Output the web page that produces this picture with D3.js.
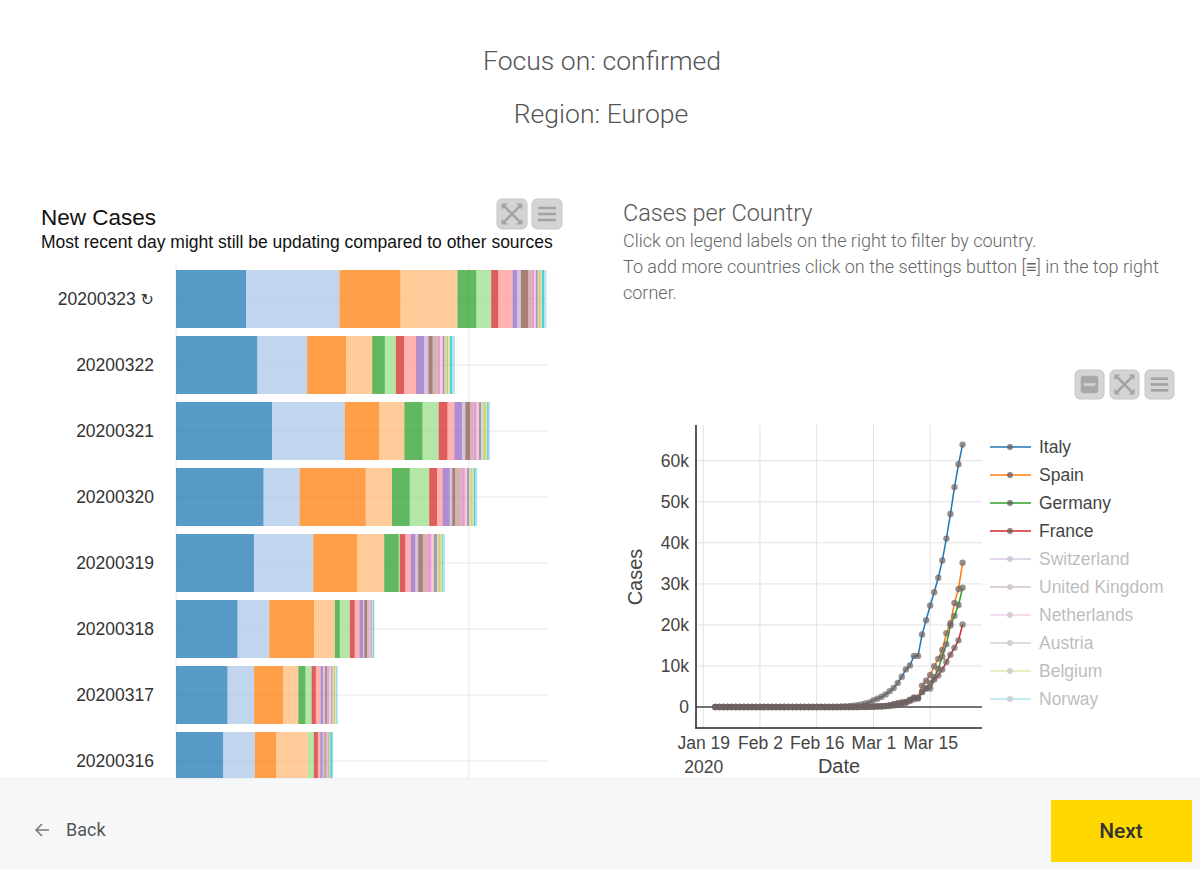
<!DOCTYPE html>
<html><head><meta charset="utf-8">
<script src="https://cdn.jsdelivr.net/npm/d3@7"></script>
<style>
body{margin:0;background:#fff;}
svg{display:block;}
</style>
</head><body>
<svg id="c" width="1200" height="869"></svg>
<script>
// ---------------- DATA ----------------
// New cases (stacked bars), rows top to bottom
const barDates = ["20200323","20200322","20200321","20200320","20200319","20200318","20200317","20200316"];
const barCountries = ["Italy","Spain","Germany","France","Switzerland","United Kingdom","Netherlands","Austria","Belgium","Norway",
  "Portugal","Sweden","Denmark","Czechia","Ireland","Luxembourg","Poland","Finland","Greece","Iceland"];
const newItaly       = [4789,5560,6557,5986,5322,4207,3526,3233];
const newSpain       = [6368,3394,4964,2447,4053,2162,1806,2144];
const newGermany     = [4183,2660,2365,4528,2993,3070,1985,1477];
const newFrance      = [3880,1780,1705,1788,1846,1409,1032,2151];
const newSwitzerland = [1300,870,1250,1219,1000,341,500,0];
const newUK          = [1000,750,1092,1320,74,683,409,407];
const newNetherlands = [500,576,614,546,387,341,295,278];
const newAustria     = [955,800,455,364,341,314,314,158];
const newBelgium     = [341,570,523,500,341,243,185,172];
const newNorway      = [228,273,228,159,182,87,130,112];
const newPortugal    = [523,300,319,228,319,194,117,86];
const newSweden      = [228,341,228,410,296,89,87,81];
const newDenmark     = [160,160,228,228,296,91,92,58];
const newCzechia     = [120,180,160,150,150,68,120,45];
const newIreland     = [120,130,150,130,228,69,90,40];
const newLuxembourg  = [100,130,180,150,120,63,100,4];
const newPoland      = [115,120,130,100,130,13,80,58];
const newFinland     = [74,110,100,80,100,15,60,33];
const newGreece      = [150,160,100,120,60,56,40,150];
const newIceland     = [150,186,91,119,129,30,80,50];
const barAxisMax = 25400;
const barGridTicks = [0, 20000];

// Cumulative confirmed cases, one value per day from 2020-01-22 to 2020-03-23
const lineStart = "2020-01-22", lineEnd = "2020-03-23";
const casesItaly = [0,0,0,0,0,0,0,0,0, 2,2,2,2,2,2,2, 3,3,3,3,3,3,3,3,3,3,3,3,3,3,
  20,62,155,229,322,453,655,888,1128,
  1694,2036,2502,3089,3858,4636,5883,7375,9172,10149,12462,12462,17660,21157,24747,27980,31506,35713,41035,47021,53578,59138,63927];
const casesSpain = [0,0,0,0,0,0,0,0,0,0, 1,1,1,1,1,1,1,1, 2,2,2,2,2,2,2,2,2,2,2,2,2,2,2,2,
  6,13,15,32,45,
  84,120,165,222,259,400,500,673,1073,1695,2277,2277,5232,6391,7798,9942,11748,13910,17963,20410,25374,28768,35136];
const casesGermany = [0,0,0,0,0,1,4,4,4,5, 8,10,12,12,12,12,13,13,14,14,
  16,16,16,16,16,16,16,16,16,16,16,16,16,16,
  17,27,46,48,79,
  130,159,196,262,482,670,799,1040,1176,1457,1908,2078,3675,4585,5795,7272,9257,12327,15320,19848,22213,24873,29056];
const casesFrance = [0,0,2,3,3,3,4,5,5,5, 6,6,6,6,6,6,6, 11,11,11,11,11,11,11,
  12,12,12,12,12,12,12,12,12,12,
  14,18,38,57,100,
  130,191,204,288,380,656,959,1136,1219,1794,2293,2293,3681,4496,4532,6683,7715,9124,10970,12758,14463,16243,20123];
const shownCountries = ["Italy","Spain","Germany","France"];
const legendCountries = ["Italy","Spain","Germany","France","Switzerland","United Kingdom","Netherlands","Austria","Belgium","Norway"];
const lineYTicks = [0,10000,20000,30000,40000,50000,60000];
const lineXTicks = ["2020-01-19","2020-02-02","2020-02-16","2020-03-01","2020-03-15"];

// ---------------- STYLE ----------------
const palette20 = ["#1f77b4","#aec7e8","#ff7f0e","#ffbb78","#2ca02c","#98df8a","#d62728","#ff9896","#9467bd","#c5b0d5",
  "#8c564b","#c49c94","#e377c2","#f7b6d2","#7f7f7f","#c7c7c7","#bcbd22","#dbdb8d","#17becf","#9edae5"];
const palette10 = ["#1f77b4","#ff7f0e","#2ca02c","#d62728","#9467bd","#8c564b","#e377c2","#7f7f7f","#bcbd22","#17becf"];
const ARIAL = "'Liberation Sans', Arial, sans-serif";
const ROBOTO = "Roboto, 'Open Sans', sans-serif";

const svg = d3.select("#c");

// ---------------- HEADER ----------------
svg.append("text").attr("x",602).attr("y",70).attr("text-anchor","middle")
  .style("font-family",ROBOTO).style("font-weight",300).style("font-size","26.6px").style("fill","#555")
  .text("Focus on: confirmed");
svg.append("text").attr("x",601).attr("y",123).attr("text-anchor","middle")
  .style("font-family",ROBOTO).style("font-weight",300).style("font-size","26.6px").style("fill","#555")
  .text("Region: Europe");

// ---------------- ICONS ----------------
function iconBox(x,y,s,kind){
  const g = svg.append("g").attr("transform",`translate(${x},${y})`);
  g.append("rect").attr("width",s).attr("height",s).attr("rx",5)
    .style("fill","#d4d4d4").style("stroke","#c6c6c6");
  const c = "#a3a3a3";
  if(kind==="menu"){
    [0.3,0.5,0.7].forEach(f=>g.append("line").attr("x1",s*0.2).attr("x2",s*0.8).attr("y1",s*f).attr("y2",s*f)
      .style("stroke",c).style("stroke-width",2.6));
  } else if(kind==="expand"){
    const a=s*0.22,b=s*0.78;
    g.append("path").attr("d",`M${a},${a}L${b},${b}M${b},${a}L${a},${b}`).style("stroke",c).style("stroke-width",2.6);
    const t=s*0.2;
    g.append("path").attr("d",`M${a-2},${a-2}h${t}l-${t},${t}z M${b+2},${a-2}h-${t}l${t},${t}z M${a-2},${b+2}h${t}l-${t},-${t}z M${b+2},${b+2}h-${t}l${t},-${t}z`)
      .style("fill",c);
  } else if(kind==="minus"){
    g.append("rect").attr("x",s*0.2).attr("y",s*0.2).attr("width",s*0.6).attr("height",s*0.6).attr("rx",3).style("fill","#a8a8a8");
    g.append("line").attr("x1",s*0.3).attr("x2",s*0.7).attr("y1",s*0.5).attr("y2",s*0.5).style("stroke","#d4d4d4").style("stroke-width",2.6);
  }
}
iconBox(497,199,30,"expand");
iconBox(532,199,30,"menu");
iconBox(1075,370,29,"minus");
iconBox(1110,370,29,"expand");
iconBox(1145,370,29,"menu");

// ---------------- LEFT: NEW CASES ----------------
svg.append("text").attr("x",41).attr("y",225).style("font-family",ARIAL).style("font-size","22.5px").style("fill","#111")
  .text("New Cases");
svg.append("text").attr("x",41).attr("y",248).style("font-family",ARIAL).style("font-size","17.5px").style("fill","#111")
  .text("Most recent day might still be updating compared to other sources");

const barValues = [newItaly,newSpain,newGermany,newFrance,newSwitzerland,newUK,newNetherlands,newAustria,newBelgium,newNorway,
  newPortugal,newSweden,newDenmark,newCzechia,newIreland,newLuxembourg,newPoland,newFinland,newGreece,newIceland];
const table = barDates.map((d,i)=>{const o={date:d}; barCountries.forEach((c,j)=>o[c]=barValues[j][i]); return o;});
const stacked = d3.stack().keys(barCountries)(table);
const colorB = d3.scaleOrdinal().domain(barCountries).range(palette20);

const xB = d3.scaleLinear().domain([0,barAxisMax]).range([176,548]);
const yB = d3.scaleBand().domain(barDates).range([266, 266+66*barDates.length]).padding(0);

svg.append("clipPath").attr("id","clipB").append("rect").attr("x",0).attr("y",150).attr("width",600).attr("height",628);
const gB = svg.append("g").attr("clip-path","url(#clipB)");

// grid
gB.selectAll(".vg").data(barGridTicks).enter().append("line")
  .attr("x1",d=>xB(d)).attr("x2",d=>xB(d)).attr("y1",265).attr("y2",800)
  .style("stroke","#e6e6e6").style("stroke-width",1);
gB.selectAll(".hg").data(barDates).enter().append("line")
  .attr("x1",xB(0)).attr("x2",xB(barAxisMax)).attr("y1",d=>yB(d)+yB.bandwidth()/2).attr("y2",d=>yB(d)+yB.bandwidth()/2)
  .style("stroke","#e6e6e6").style("stroke-width",1);

gB.selectAll(".layer").data(stacked).enter().append("g")
  .style("fill",d=>colorB(d.key)).style("fill-opacity",0.75)
  .selectAll("rect").data(d=>d).enter().append("rect")
  .attr("x",d=>xB(d[0])).attr("width",d=>Math.max(0,xB(d[1])-xB(d[0])))
  .attr("y",d=>yB(d.data.date)+4).attr("height",yB.bandwidth()-8);

const axB = gB.append("g").attr("transform",`translate(${xB(0)},0)`)
  .call(d3.axisLeft(yB).tickSize(0).tickPadding(22));
axB.select(".domain").remove();
axB.selectAll("text").style("font-family",ARIAL).style("font-size","17.5px").style("fill","#333");
axB.selectAll(".tick text").filter(d=>d===barDates[0]).text(d=>d+"  ")
  .append("tspan").style("font-family","'DejaVu Sans', sans-serif").style("font-size","16px").text("\u21BB");

// ---------------- RIGHT: CASES PER COUNTRY ----------------
svg.append("text").attr("x",623).attr("y",221).style("font-family",ROBOTO).style("font-weight",300).style("font-size","23.5px").style("fill","#555")
  .text("Cases per Country");
["Click on legend labels on the right to filter by country.",
 "To add more countries click on the settings button [\u2261] in the top right",
 "corner."].forEach((t,i)=>svg.append("text").attr("x",623).attr("y",247+26*i)
   .style("font-family",ROBOTO).style("font-weight",300).style("font-size","18px").style("fill","#666").text(t));

const parse = d3.utcParse("%Y-%m-%d");
const lineDates = d3.utcDay.range(parse(lineStart), d3.utcDay.offset(parse(lineEnd),1));
const lineSeries = {Italy:casesItaly, Spain:casesSpain, Germany:casesGermany, France:casesFrance};
const colorL = d3.scaleOrdinal().domain(legendCountries).range(palette10);

const xL = d3.scaleUtc().domain([Date.UTC(2020,0,17,5), Date.UTC(2020,2,27,19)]).range([696,982]);
const yL = d3.scaleLinear().domain([-5100,68700]).range([728,425]);
const tickDates = lineXTicks.map(parse);

const gL = svg.append("g");
gL.selectAll(".vgl").data(tickDates).enter().append("line")
  .attr("x1",d=>xL(d)).attr("x2",d=>xL(d)).attr("y1",425).attr("y2",728).style("stroke","#e2e2e2");
gL.selectAll(".hgl").data(lineYTicks.filter(d=>d!==0)).enter().append("line")
  .attr("x1",696).attr("x2",982).attr("y1",d=>yL(d)).attr("y2",d=>yL(d)).style("stroke","#e2e2e2");
gL.append("line").attr("x1",696).attr("x2",982).attr("y1",yL(0)).attr("y2",yL(0)).style("stroke","#444").style("stroke-width",1.5);

const line = d3.line().x((d,i)=>xL(lineDates[i])).y(d=>yL(d));
shownCountries.slice().reverse().forEach(c=>{
  gL.append("path").datum(lineSeries[c]).attr("d",line)
    .style("fill","none").style("stroke",colorL(c)).style("stroke-width",1.5);
});
shownCountries.slice().reverse().forEach(c=>{
  gL.append("g").selectAll("circle").data(lineSeries[c]).enter().append("circle")
    .attr("cx",(d,i)=>xL(lineDates[i])).attr("cy",d=>yL(d)).attr("r",3.2)
    .style("fill","#6e6262").style("fill-opacity",0.7);
});

// axes
const axY = gL.append("g").attr("transform","translate(696,0)")
  .call(d3.axisLeft(yL).tickValues(lineYTicks).tickFormat(d=>d===0?"0":(d/1000)+"k").tickSize(0).tickPadding(7));
axY.select(".domain").remove();
axY.selectAll("text").style("font-family",ARIAL).style("font-size","17.5px").style("fill","#444");
gL.append("line").attr("x1",696).attr("x2",696).attr("y1",425).attr("y2",728.5).style("stroke","#222").style("stroke-width",1.5);

const axX = gL.append("g").attr("transform","translate(0,728)")
  .call(d3.axisBottom(xL).tickValues(tickDates).tickFormat(d3.utcFormat("%b %-d")).tickSize(0).tickPadding(9));
axX.select(".domain").remove();
axX.selectAll("text").style("font-family",ARIAL).style("font-size","17.5px").style("fill","#444");
axX.selectAll(".tick").filter((d,i)=>i===0).append("text").attr("y",45).attr("dy","0")
  .attr("text-anchor","middle").style("font-family",ARIAL).style("font-size","17.5px").style("fill","#444").text("2020");
gL.append("line").attr("x1",695.25).attr("x2",982).attr("y1",728).attr("y2",728).style("stroke","#222").style("stroke-width",1.5);

gL.append("text").attr("transform","translate(642,577) rotate(-90)").attr("text-anchor","middle")
  .style("font-family",ARIAL).style("font-size","20px").style("fill","#444").text("Cases");
gL.append("text").attr("x",839).attr("y",773).attr("text-anchor","middle")
  .style("font-family",ARIAL).style("font-size","20px").style("fill","#444").text("Date");

// legend
const lg = svg.append("g").selectAll("g").data(legendCountries).enter().append("g")
  .attr("transform",(d,i)=>`translate(990,${447+28*i})`)
  .style("opacity",d=>shownCountries.includes(d)?1:0.35);
lg.append("line").attr("x1",0).attr("x2",41).style("stroke",d=>colorL(d)).style("stroke-width",1.5);
lg.append("circle").attr("cx",20).attr("r",3).style("fill","#6e6262").style("fill-opacity",0.8);
lg.append("text").attr("x",49).attr("y",6).style("font-family",ARIAL).style("font-size","17.5px").style("fill","#444").text(d=>d);

// ---------------- FOOTER ----------------
svg.append("rect").attr("x",0).attr("y",778).attr("width",1200).attr("height",91).style("fill","#f6f7f9");
svg.append("line").attr("x1",0).attr("x2",1200).attr("y1",778.5).attr("y2",778.5).style("stroke","#eceef1");
svg.append("path").attr("d","M49,830H36M42,824L36,830L42,836").style("fill","none").style("stroke","#777").style("stroke-width",1.5);
svg.append("text").attr("x",66).attr("y",836).style("font-family",ROBOTO).style("font-size","18px").style("fill","#555").text("Back");
svg.append("rect").attr("x",1051).attr("y",800).attr("width",141).attr("height",62).style("fill","#ffd800");
svg.append("text").attr("x",1121).attr("y",838).attr("text-anchor","middle").style("font-family",ROBOTO).style("font-weight",500)
  .style("font-size","21px").style("fill","#333").text("Next");
</script>
</body></html>
